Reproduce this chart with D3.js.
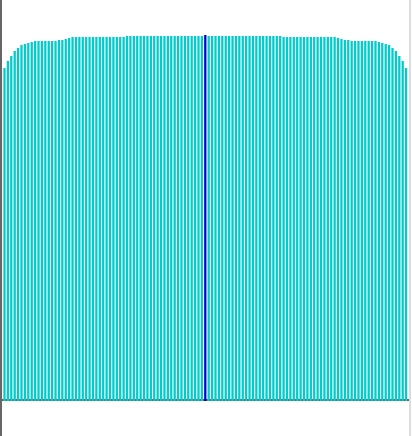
<!DOCTYPE html>
<html>
<head>
<meta charset="utf-8">
<script src="https://cdn.jsdelivr.net/npm/d3@7"></script>
<style>
  html, body { margin: 0; padding: 0; background: #fff; overflow: hidden; }
  svg { display: block; }
</style>
</head>
<body>
<svg id="chart" width="412" height="436"></svg>
<script>
// Bar categories (no visible labels in the reference)
const categories = [
  "1","2","3","4","5","6","7","8","9","10","11","12","13","14","15","16","17","18","19","20",
  "21","22","23","24","25","26","27","28","29","30","31","32","33","34","35","36","37","38","39","40",
  "41","42","43","44","45","46","47","48","49","50","51","52","53","54","55","56","57","58","59","60",
  "61","62","63","64","65","66","67","68","69","70","71","72","73","74","75","76","77","78","79","80",
  "81","82","83","84","85","86","87","88","89","90","91","92","93","94","95","96","97","98","99","100",
  "101","102","103","104","105","106","107","108","109","110","111","112","113","114","115","116","117","118","119"
];
// Values
const values = [
  332,339,344,349,352,355,356,357,358,359,
  359,359,359,359,359,359,360,360,361,362,
  363,363,363,363,363,363,363,363,363,363,
  363,363,363,363,363,363,364,364,364,364,
  364,364,364,364,364,364,364,364,364,364,
  364,364,364,364,364,364,364,364,364,365,
  364,364,364,364,364,364,364,364,364,364,
  364,364,364,364,364,364,364,364,364,364,
  364,364,363,363,363,363,363,363,363,363,
  363,363,363,363,363,363,363,363,362,361,
  360,360,359,359,359,359,359,359,359,359,
  358,357,356,355,352,349,344,339,332
];
const highlighted = ["60"];
const yDomain = [0, 400];

const svg = d3.select("#chart");

const x = d3.scaleBand()
  .domain(categories)
  .range([3, 407.6])
  .paddingInner(0.33)
  .paddingOuter(0.1);

const y = d3.scaleLinear()
  .domain(yDomain)
  .range([400, 0]);

// light right border
svg.append("line")
  .attr("x1", 410).attr("x2", 410)
  .attr("y1", 0).attr("y2", 436)
  .attr("stroke", "#dddddd").attr("stroke-width", 2);

// bottom axis
const xAxis = svg.append("g")
  .attr("transform", "translate(0,400)")
  .call(d3.axisBottom(x).tickSize(0).tickFormat(""));
xAxis.select(".domain").attr("stroke", "#666").attr("stroke-width", 2)
  .attr("d", "M0,0H409");

// bars
svg.append("g")
  .selectAll("rect")
  .data(categories)
  .join("rect")
  .attr("x", d => x(d))
  .attr("width", x.bandwidth())
  .attr("y", (d, i) => y(values[i]))
  .attr("height", (d, i) => y(0) - y(values[i]) + 1)
  .attr("fill", d => highlighted.includes(d) ? "#0000cd" : "#00cccc");

// left axis
const yAxis = svg.append("g")
  .attr("transform", "translate(1,0)")
  .call(d3.axisLeft(y).tickSize(0).tickFormat(""));
yAxis.select(".domain").attr("stroke", "#666").attr("stroke-width", 2)
  .attr("d", "M0,0V436");
</script>
</body>
</html>
